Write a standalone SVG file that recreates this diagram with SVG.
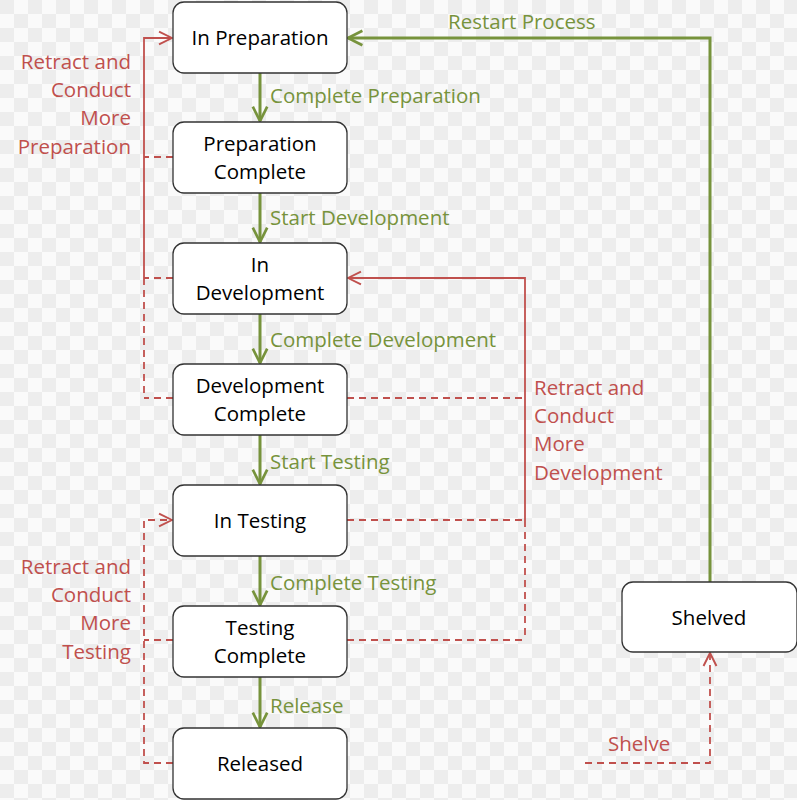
<svg xmlns="http://www.w3.org/2000/svg" width="797" height="800" viewBox="0 0 797 800">
<defs>
<pattern id="chk" width="28" height="28" patternUnits="userSpaceOnUse">
<rect width="28" height="28" fill="#fafafa"/>
<rect width="14" height="14" fill="#ededed"/>
<rect x="14" y="14" width="14" height="14" fill="#ededed"/>
</pattern>
<marker id="ag" viewBox="0 0 20 20" refX="18" refY="10" markerWidth="6" markerHeight="6" markerUnits="strokeWidth" orient="auto">
<path d="M2,2 L18,10 L2,18" fill="none" stroke="#77933C" stroke-width="3"/>
</marker>
<marker id="ar" viewBox="0 0 20 20" refX="18" refY="10" markerWidth="9" markerHeight="9" markerUnits="strokeWidth" orient="auto">
<path d="M2,2 L18,10 L2,18" fill="none" stroke="#C0504D" stroke-width="2.4"/>
</marker>
</defs>
<style>
.box{fill:#fff;stroke:#333;stroke-width:1.3}
.nt{font-family:"Open Sans","Noto Sans",sans-serif;font-size:20.5px;fill:#000;text-anchor:middle}
.gl{font-family:"Open Sans","Noto Sans",sans-serif;font-size:20.5px;fill:#77933C}
.rl{font-family:"Open Sans","Noto Sans",sans-serif;font-size:20.5px;fill:#C0504D}
.g{stroke:#77933C;stroke-width:3;fill:none}
.r{stroke:#C0504D;stroke-width:1.8;fill:none}
.rd{stroke:#C0504D;stroke-width:1.8;fill:none;stroke-dasharray:7,5}
</style>
<rect width="797" height="800" fill="url(#chk)"/>
<g id="connectors">
<line class="g" x1="260" y1="73" x2="260" y2="121" marker-end="url(#ag)"/>
<line class="g" x1="260" y1="193" x2="260" y2="242" marker-end="url(#ag)"/>
<line class="g" x1="260" y1="314" x2="260" y2="363" marker-end="url(#ag)"/>
<line class="g" x1="260" y1="435" x2="260" y2="484" marker-end="url(#ag)"/>
<line class="g" x1="260" y1="556" x2="260" y2="605" marker-end="url(#ag)"/>
<line class="g" x1="260" y1="677" x2="260" y2="727" marker-end="url(#ag)"/>
<polyline class="g" points="710,582 710,38 348,38" marker-end="url(#ag)"/>
<polyline class="r" points="144,278 144,38 172,38" marker-end="url(#ar)"/>
<line class="rd" x1="144" y1="278" x2="144" y2="398"/>
<line class="rd" x1="173" y1="157" x2="144" y2="157"/>
<line class="rd" x1="173" y1="278" x2="144" y2="278"/>
<line class="rd" x1="173" y1="398" x2="144" y2="398"/>
<polyline class="r" points="525,520 525,278 348,278" marker-end="url(#ar)"/>
<line class="rd" x1="525" y1="520" x2="525" y2="640"/>
<line class="rd" x1="347" y1="398" x2="525" y2="398"/>
<line class="rd" x1="347" y1="520" x2="525" y2="520"/>
<line class="rd" x1="347" y1="640" x2="525" y2="640"/>
<polyline class="rd" points="173,763 144,763 144,520 172,520" marker-end="url(#ar)"/>
<line class="rd" x1="173" y1="640" x2="144" y2="640"/>
<polyline class="rd" points="585,763 710,763 710,653" marker-end="url(#ar)"/>
<text class="gl" x="270" y="103">Complete Preparation</text>
<text class="gl" x="270" y="225">Start Development</text>
<text class="gl" x="270" y="347">Complete Development</text>
<text class="gl" x="270" y="469">Start Testing</text>
<text class="gl" x="270" y="590">Complete Testing</text>
<text class="gl" x="270" y="713">Release</text>
<text class="gl" x="448" y="29">Restart Process</text>
<text class="rl" x="608" y="751">Shelve</text>
<text class="rl" text-anchor="end"><tspan x="131" y="69">Retract and</tspan><tspan x="131" y="97">Conduct</tspan><tspan x="131" y="125">More</tspan><tspan x="131" y="154">Preparation</tspan></text>
<text class="rl" text-anchor="end"><tspan x="131" y="574">Retract and</tspan><tspan x="131" y="602">Conduct</tspan><tspan x="131" y="630">More</tspan><tspan x="131" y="659">Testing</tspan></text>
<text class="rl"><tspan x="534" y="395">Retract and</tspan><tspan x="534" y="423">Conduct</tspan><tspan x="534" y="451">More</tspan><tspan x="534" y="480">Development</tspan></text>
</g>
<g id="n-in-preparation"><rect class="box" x="173" y="2" width="174" height="71" rx="11"/><text class="nt" x="260" y="45">In Preparation</text></g>
<g id="n-preparation-complete"><rect class="box" x="173" y="122" width="174" height="71" rx="11"/><text class="nt" x="260" y="151">Preparation</text><text class="nt" x="260" y="179">Complete</text></g>
<g id="n-in-development"><rect class="box" x="173" y="243" width="174" height="71" rx="11"/><text class="nt" x="260" y="272">In</text><text class="nt" x="260" y="300">Development</text></g>
<g id="n-development-complete"><rect class="box" x="173" y="364" width="174" height="71" rx="11"/><text class="nt" x="260" y="393">Development</text><text class="nt" x="260" y="421">Complete</text></g>
<g id="n-in-testing"><rect class="box" x="173" y="485" width="174" height="71" rx="11"/><text class="nt" x="260" y="528">In Testing</text></g>
<g id="n-testing-complete"><rect class="box" x="173" y="606" width="174" height="71" rx="11"/><text class="nt" x="260" y="635">Testing</text><text class="nt" x="260" y="663">Complete</text></g>
<g id="n-released"><rect class="box" x="173" y="728" width="174" height="71" rx="11"/><text class="nt" x="260" y="771">Released</text></g>
<g id="n-shelved"><rect class="box" x="622" y="582" width="175" height="70" rx="11"/><text class="nt" x="709" y="625">Shelved</text></g>
</svg>
